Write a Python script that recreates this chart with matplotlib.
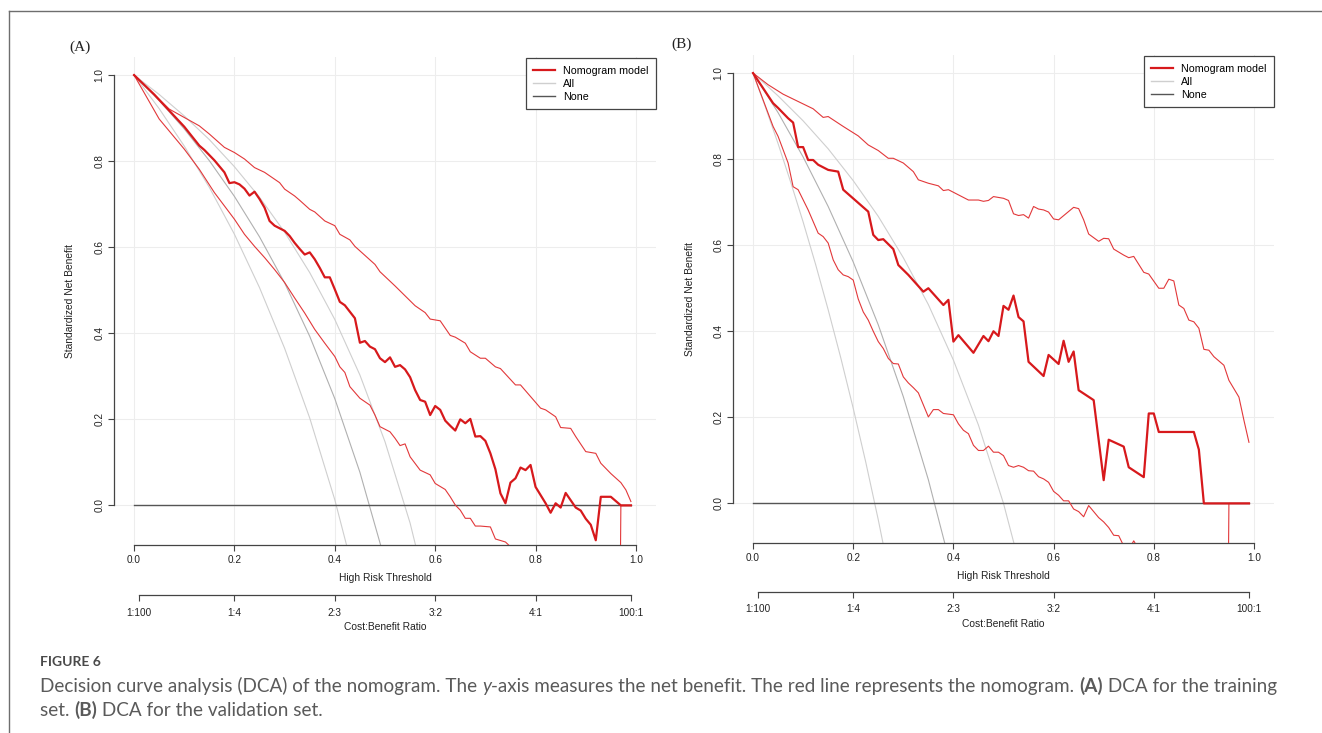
import matplotlib.pyplot as plt
from matplotlib.lines import Line2D

# ---- data ---------------------------------------------------------------
# panel A (training set)
a_model_x = [0.00, 0.04, 0.08, 0.10, 0.13, 0.14, 0.16, 0.18, 0.19, 0.20, 0.21, 0.22, 0.23, 0.24, 0.25, 0.26,
             0.27, 0.28, 0.29, 0.30, 0.31, 0.32, 0.33, 0.34, 0.35, 0.36, 0.37, 0.38, 0.39, 0.40, 0.41, 0.42,
             0.43, 0.44, 0.45, 0.46, 0.47, 0.48, 0.49, 0.50, 0.51, 0.52, 0.53, 0.54, 0.55, 0.56, 0.57, 0.58,
             0.59, 0.60, 0.61, 0.62, 0.63, 0.64, 0.65, 0.66, 0.67, 0.68, 0.69, 0.70, 0.71, 0.72, 0.73, 0.74,
             0.75, 0.76, 0.77, 0.78, 0.79, 0.80, 0.81, 0.82, 0.83, 0.84, 0.85, 0.86, 0.87, 0.88, 0.89, 0.90,
             0.91, 0.92, 0.93, 0.95, 0.97, 0.99]
a_model_y = [1.000, 0.955, 0.905, 0.880, 0.836, 0.826, 0.802, 0.774, 0.749, 0.751, 0.746, 0.736, 0.720, 0.729,
             0.712, 0.692, 0.661, 0.650, 0.644, 0.638, 0.626, 0.610, 0.596, 0.583, 0.588, 0.572, 0.552, 0.530,
             0.530, 0.502, 0.473, 0.465, 0.450, 0.435, 0.378, 0.382, 0.369, 0.363, 0.342, 0.333, 0.344, 0.322,
             0.326, 0.316, 0.298, 0.268, 0.245, 0.241, 0.210, 0.231, 0.222, 0.197, 0.185, 0.174, 0.200, 0.191,
             0.201, 0.160, 0.161, 0.150, 0.121, 0.084, 0.028, 0.005, 0.053, 0.063, 0.088, 0.082, 0.094, 0.043,
             0.024, 0.005, -0.017, 0.005, -0.005, 0.029, 0.012, -0.005, -0.012, -0.031, -0.045, -0.081, 0.020,
             0.020, 0.000, 0.000]
a_upper_x = [0.00, 0.07, 0.13, 0.15, 0.18, 0.20, 0.22, 0.24, 0.26, 0.28, 0.29, 0.30, 0.32, 0.33, 0.35, 0.36,
             0.38, 0.40, 0.41, 0.43, 0.44, 0.46, 0.48, 0.49, 0.52, 0.54, 0.56, 0.58, 0.59, 0.61, 0.63, 0.64,
             0.66, 0.67, 0.69, 0.70, 0.72, 0.73, 0.76, 0.77, 0.79, 0.81, 0.82, 0.84, 0.85, 0.87, 0.88, 0.90,
             0.92, 0.93, 0.95, 0.97, 0.98, 0.99]
a_upper_y = [1.000, 0.921, 0.882, 0.863, 0.832, 0.820, 0.805, 0.785, 0.774, 0.758, 0.750, 0.735, 0.719, 0.709,
             0.688, 0.682, 0.661, 0.650, 0.630, 0.617, 0.602, 0.581, 0.560, 0.543, 0.510, 0.487, 0.464, 0.448,
             0.433, 0.429, 0.395, 0.391, 0.377, 0.357, 0.342, 0.342, 0.322, 0.318, 0.280, 0.280, 0.253, 0.226,
             0.222, 0.206, 0.181, 0.179, 0.160, 0.125, 0.121, 0.098, 0.074, 0.053, 0.036, 0.009]
a_lower_x = [0.00, 0.05, 0.10, 0.13, 0.16, 0.18, 0.20, 0.22, 0.24, 0.26, 0.28, 0.30, 0.32, 0.34, 0.36, 0.38,
             0.40, 0.41, 0.42, 0.43, 0.45, 0.47, 0.48, 0.49, 0.51, 0.52, 0.53, 0.54, 0.55, 0.57, 0.59, 0.60,
             0.62, 0.63, 0.64, 0.65, 0.66, 0.67, 0.68, 0.69, 0.71, 0.72, 0.74, 0.75, 0.80, 0.90, 0.965, 0.97,
             0.99]
a_lower_y = [1.000, 0.898, 0.828, 0.781, 0.727, 0.696, 0.665, 0.630, 0.602, 0.576, 0.548, 0.518, 0.482, 0.447,
             0.409, 0.377, 0.346, 0.322, 0.309, 0.276, 0.249, 0.233, 0.210, 0.183, 0.171, 0.156, 0.139, 0.143,
             0.113, 0.082, 0.071, 0.051, 0.037, 0.020, 0.001, -0.011, -0.030, -0.030, -0.048, -0.048, -0.050,
             -0.078, -0.085, -0.096, -0.160, -0.350, -0.700, 0.000, 0.000]
a_all_x = [0.00, 0.05, 0.10, 0.15, 0.20, 0.25, 0.30, 0.35, 0.40, 0.45, 0.50, 0.55, 0.60]
a_all_lo = [1.000, 0.922, 0.835, 0.739, 0.630, 0.506, 0.365, 0.203, 0.013, -0.212]
a_all_mid = [1.000, 0.941, 0.875, 0.801, 0.718, 0.624, 0.517, 0.393, 0.248, 0.077, -0.128]
a_all_hi = [1.000, 0.955, 0.905, 0.850, 0.787, 0.716, 0.635, 0.541, 0.432, 0.303, 0.148, -0.041, -0.278]

# panel B (validation set)
b_model_x = [0.00, 0.02, 0.04, 0.05, 0.07, 0.08, 0.09, 0.10, 0.11, 0.12, 0.13, 0.15, 0.17, 0.18, 0.23, 0.24,
             0.25, 0.26, 0.28, 0.29, 0.31, 0.34, 0.35, 0.38, 0.39, 0.40, 0.41, 0.44, 0.46, 0.47, 0.48, 0.49,
             0.50, 0.51, 0.52, 0.53, 0.54, 0.55, 0.58, 0.59, 0.61, 0.62, 0.63, 0.64, 0.65, 0.68, 0.70, 0.71,
             0.74, 0.75, 0.78, 0.79, 0.80, 0.81, 0.88, 0.89, 0.90, 0.99]
b_model_y = [1.000, 0.965, 0.930, 0.919, 0.895, 0.885, 0.828, 0.828, 0.798, 0.798, 0.787, 0.775, 0.771, 0.729,
             0.678, 0.624, 0.612, 0.614, 0.591, 0.554, 0.531, 0.492, 0.500, 0.461, 0.473, 0.376, 0.391, 0.350,
             0.389, 0.377, 0.400, 0.389, 0.459, 0.450, 0.483, 0.433, 0.423, 0.329, 0.296, 0.345, 0.324, 0.378,
             0.329, 0.353, 0.263, 0.240, 0.054, 0.148, 0.132, 0.084, 0.061, 0.209, 0.209, 0.166, 0.166, 0.125,
             0.000, 0.000]
b_upper_x = [0.00, 0.03, 0.06, 0.09, 0.12, 0.14, 0.15, 0.18, 0.21, 0.23, 0.25, 0.27, 0.28, 0.30, 0.32, 0.33,
             0.35, 0.37, 0.38, 0.39, 0.43, 0.45, 0.46, 0.47, 0.48, 0.50, 0.51, 0.52, 0.53, 0.54, 0.55, 0.56,
             0.57, 0.58, 0.59, 0.60, 0.61, 0.64, 0.65, 0.66, 0.67, 0.69, 0.70, 0.71, 0.72, 0.74, 0.75, 0.76,
             0.78, 0.79, 0.81, 0.82, 0.83, 0.84, 0.85, 0.86, 0.87, 0.88, 0.89, 0.90, 0.91, 0.92, 0.94, 0.95,
             0.97, 0.98, 0.99]
b_upper_y = [1.000, 0.973, 0.951, 0.934, 0.917, 0.897, 0.899, 0.876, 0.854, 0.833, 0.820, 0.802, 0.802, 0.791,
             0.771, 0.752, 0.744, 0.738, 0.727, 0.729, 0.705, 0.705, 0.702, 0.704, 0.713, 0.709, 0.704, 0.673,
             0.669, 0.671, 0.663, 0.690, 0.684, 0.682, 0.677, 0.661, 0.659, 0.688, 0.685, 0.659, 0.626, 0.609,
             0.616, 0.615, 0.591, 0.577, 0.571, 0.574, 0.537, 0.533, 0.500, 0.500, 0.521, 0.517, 0.461, 0.453,
             0.426, 0.422, 0.407, 0.358, 0.356, 0.341, 0.321, 0.286, 0.247, 0.193, 0.142]
b_lower_x = [0.00, 0.02, 0.04, 0.05, 0.07, 0.08, 0.09, 0.11, 0.13, 0.14, 0.15, 0.16, 0.17, 0.18, 0.19, 0.20,
             0.21, 0.22, 0.23, 0.24, 0.25, 0.26, 0.27, 0.28, 0.29, 0.30, 0.31, 0.32, 0.33, 0.35, 0.36, 0.37,
             0.38, 0.40, 0.41, 0.42, 0.43, 0.44, 0.45, 0.46, 0.47, 0.48, 0.49, 0.50, 0.51, 0.52, 0.53, 0.54,
             0.55, 0.56, 0.57, 0.58, 0.59, 0.60, 0.61, 0.62, 0.63, 0.64, 0.65, 0.66, 0.67, 0.68, 0.69, 0.70,
             0.71, 0.72, 0.73, 0.74, 0.75, 0.76, 0.77, 0.80, 0.90, 0.945, 0.95, 0.99]
b_lower_y = [1.000, 0.938, 0.876, 0.853, 0.791, 0.736, 0.729, 0.682, 0.628, 0.620, 0.605, 0.566, 0.543, 0.531,
             0.527, 0.519, 0.475, 0.445, 0.426, 0.400, 0.376, 0.360, 0.337, 0.325, 0.324, 0.294, 0.280, 0.269,
             0.257, 0.201, 0.218, 0.218, 0.209, 0.206, 0.185, 0.170, 0.162, 0.135, 0.123, 0.123, 0.133, 0.119,
             0.119, 0.111, 0.088, 0.084, 0.088, 0.084, 0.076, 0.075, 0.062, 0.057, 0.049, 0.028, 0.019, 0.006,
             0.006, -0.013, -0.019, -0.031, -0.005, -0.019, -0.033, -0.043, -0.056, -0.074, -0.075, -0.099,
             -0.107, -0.087, -0.107, -0.150, -0.350, -0.700, 0.000, 0.000]
b_all_x = [0.000, 0.025, 0.050, 0.075, 0.100, 0.125, 0.150, 0.175, 0.200, 0.225, 0.250, 0.275, 0.300]
b_all_lo = [1.000, 0.920, 0.836, 0.747, 0.654, 0.555, 0.450, 0.339, 0.221, 0.096, -0.038, -0.182, -0.335]
b_all_x2 = [0.00, 0.05, 0.10, 0.15, 0.20, 0.25, 0.30, 0.35, 0.40, 0.45, 0.50, 0.55]
b_all_mid = [1.000, 0.908, 0.805, 0.690, 0.561, 0.415, 0.248, 0.055, -0.170]
b_all_hi = [1.000, 0.947, 0.889, 0.824, 0.750, 0.667, 0.571, 0.462, 0.333, 0.182, 0.000, -0.222]

none_x = [0.0, 0.99]
none_y = [0.0, 0.0]

x_ticks = [0.0, 0.2, 0.4, 0.6, 0.8, 1.0]
y_ticks = [0.0, 0.2, 0.4, 0.6, 0.8, 1.0]
cb_ticks = [0.01, 0.2, 0.4, 0.6, 0.8, 0.99]
cb_labels = ["1:100", "1:4", "2:3", "3:2", "4:1", "100:1"]

# ---- figure -------------------------------------------------------------
W, H = 1322, 733
fig = plt.figure(figsize=(W / 100, H / 100), dpi=100)
plt.rcParams["font.family"] = ["Liberation Sans", "DejaVu Sans"]

RED = "#d7191c"
RED_CI = "#e2383a"
GREY_L = "#cfcfcf"
GREY_M = "#b0b0b0"
GREY_D = "#555555"
SMALL = 7.2


def fx(px):
    return px / W


def fy(py):
    return 1 - py / H


def panel(box, model, upper, lower, alls, letter, lpos, ylab_x, xlab_y, cb_y, cb_lab_y):
    left, top, right, bottom = box
    ax = fig.add_axes([fx(left), fy(bottom), (right - left) / W, (bottom - top) / H])
    ax.set_xlim(-0.04, 1.04)
    ax.set_ylim(-0.092, 1.042)

    for v in x_ticks:
        ax.axvline(v, color="#ededed", lw=0.8, zorder=0)
    for v in y_ticks:
        ax.axhline(v, color="#ededed", lw=0.8, zorder=0)

    for i, (xs, ys) in enumerate(alls):
        ax.plot(xs[:len(ys)], ys, color=GREY_M if i == 1 else GREY_L, lw=0.8, zorder=1)
    ax.plot(none_x, none_y, color=GREY_D, lw=1.0, zorder=2)
    ax.plot(*upper, color=RED_CI, lw=0.8, zorder=3)
    ax.plot(*lower, color=RED_CI, lw=0.8, zorder=3)
    ax.plot(*model, color=RED, lw=1.6, zorder=4)

    for s in ["top", "right"]:
        ax.spines[s].set_visible(False)
    ax.spines["left"].set_bounds(0, 1)
    ax.spines["bottom"].set_bounds(0, 1)
    for s in ["left", "bottom"]:
        ax.spines[s].set_color("#444444")
        ax.spines[s].set_linewidth(0.9)
    ax.set_xticks(x_ticks)
    ax.set_xticklabels([f"{v:.1f}" for v in x_ticks])
    ax.set_yticks(y_ticks)
    ax.set_yticklabels([f"{v:.1f}" for v in y_ticks], rotation=90, va="center")
    ax.tick_params(length=4, width=0.8, color="#444444", labelsize=SMALL, labelcolor="#222222", pad=3)
    ax.patch.set_visible(False)

    handles = [Line2D([], [], color=RED, lw=1.6), Line2D([], [], color=GREY_L, lw=1.0),
               Line2D([], [], color=GREY_D, lw=1.0)]
    leg = ax.legend(handles, ["Nomogram model", "All", "None"], loc="upper right",
                    bbox_to_anchor=(1.0, 0.998), borderaxespad=0, fontsize=7.7, frameon=True,
                    fancybox=False, framealpha=1, edgecolor="#444444", handlelength=2.0,
                    handletextpad=0.75, labelspacing=0.28, borderpad=0.72)
    leg.get_frame().set_linewidth(0.9)

    cx = (left + right) / 2
    fig.text(fx(ylab_x), fy((top + bottom) / 2), "Standardized Net Benefit", rotation=90,
             ha="center", va="center", fontsize=7.4, color="#222222")
    fig.text(fx(cx), fy(xlab_y), "High Risk Threshold", ha="center", va="center",
             fontsize=7.4, color="#222222")

    # second axis: cost:benefit ratio
    ax2 = fig.add_axes([fx(left), fy(cb_y), (right - left) / W, 0.0001])
    ax2.set_xlim(-0.04, 1.04)
    for s in ["top", "right", "left"]:
        ax2.spines[s].set_visible(False)
    ax2.spines["bottom"].set_bounds(0.01, 0.99)
    ax2.spines["bottom"].set_color("#444444")
    ax2.spines["bottom"].set_linewidth(0.9)
    ax2.set_yticks([])
    ax2.set_xticks(cb_ticks)
    ax2.set_xticklabels(cb_labels)
    ax2.tick_params(length=4, width=0.8, color="#444444", labelsize=SMALL, labelcolor="#222222", pad=5)
    ax2.patch.set_visible(False)
    fig.text(fx(cx), fy(cb_lab_y), "Cost:Benefit Ratio", ha="center", va="center",
             fontsize=7.4, color="#222222")

    fig.text(fx(lpos[0]), fy(lpos[1]), letter, ha="center", va="center", fontsize=11,
             family="Liberation Serif", color="#222222")


panel((114, 57, 656, 545), (a_model_x, a_model_y), (a_upper_x, a_upper_y), (a_lower_x, a_lower_y),
      [(a_all_x, a_all_lo), (a_all_x, a_all_mid), (a_all_x, a_all_hi)],
      "(A)", (80, 47), 70, 578, 595, 627)
panel((733, 55, 1274, 543), (b_model_x, b_model_y), (b_upper_x, b_upper_y), (b_lower_x, b_lower_y),
      [(b_all_x, b_all_lo), (b_all_x2, b_all_mid), (b_all_x2, b_all_hi)],
      "(B)", (682, 44), 690, 576, 592, 624)

# frame
fig.add_artist(Line2D([fx(9), 1], [fy(11), fy(11)], color="#6e6e6e", lw=1.0))
fig.add_artist(Line2D([fx(9), fx(9)], [fy(11), 0], color="#6e6e6e", lw=1.0))

# caption
CAP = "#5a5a5a"
CAP_FONT = ["Lato", "DejaVu Sans"]
fig.text(fx(40), fy(662), "FIGURE 6", ha="left", va="center", fontsize=10, family=CAP_FONT,
         color="#4a4a4a", weight="bold")

line1 = [("Decision curve analysis (DCA) of the nomogram. The ", "n"), ("y", "i"),
         ("-axis measures the net benefit. The red line represents the nomogram. ", "n"),
         ("(A)", "b"), (" DCA for the training", "n")]
line2 = [("set. ", "n"), ("(B)", "b"), (" DCA for the validation set.", "n")]


def chain_text(pieces, x0, ybase, size):
    # place styled pieces one after another on a shared baseline
    xpos = fx(x0)
    for txt, style in pieces:
        kw = dict(fontsize=size, family=CAP_FONT, color=CAP, va="baseline", ha="left")
        if style == "b":
            kw["weight"] = "bold"
        elif style == "i":
            kw["style"] = "italic"
        t = fig.text(xpos, fy(ybase), txt, **kw)
        fig.canvas.draw()
        xpos = t.get_window_extent().x1 / W


chain_text(line1, 40, 692, 13.6)
chain_text(line2, 40, 716, 13.6)

fig.savefig("out.png", dpi=100)
